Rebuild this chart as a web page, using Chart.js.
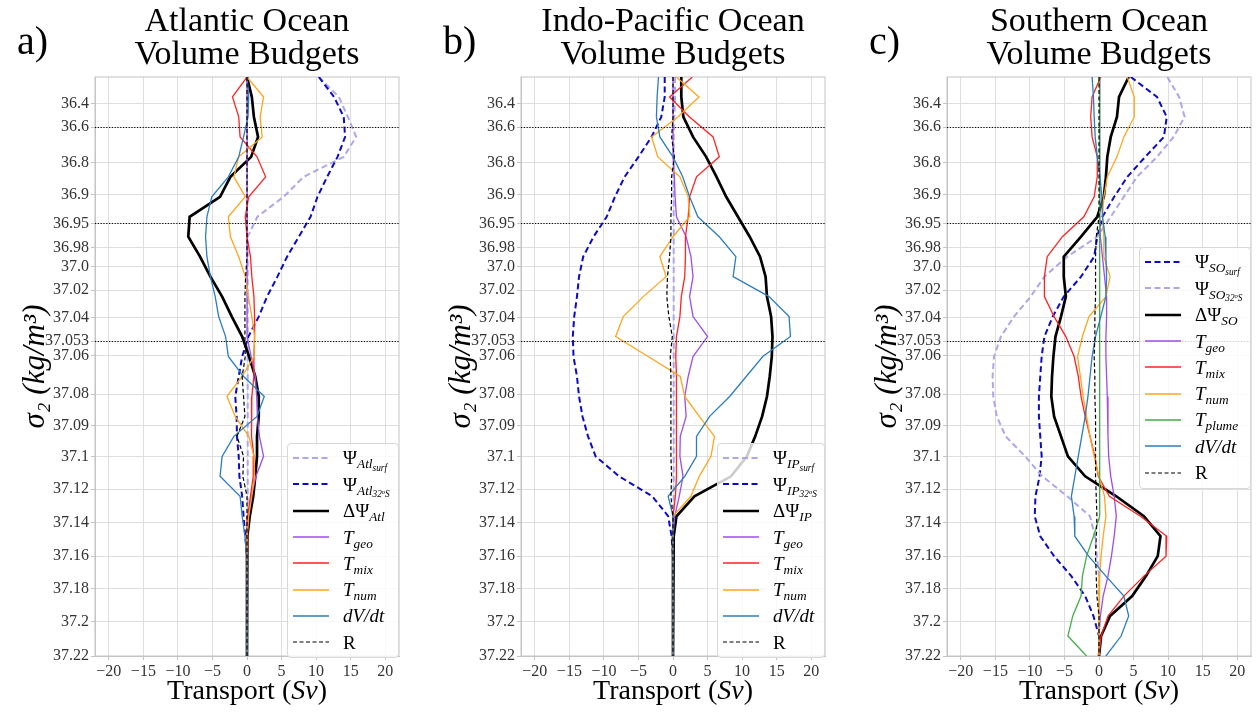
<!DOCTYPE html>
<html>
<head>
<meta charset="utf-8">
<title>Volume Budgets</title>
<script src="https://cdn.jsdelivr.net/npm/chart.js@4.4.1/dist/chart.umd.min.js"></script>
<style>
  body { margin: 0; background: #fff; font-family: 'Liberation Serif', 'DejaVu Serif', serif; color: #000; }
  #page { position: relative; width: 1258px; height: 714px; overflow: hidden; }
  .panel { position: absolute; top: 0; width: 406px; height: 714px; }
  .panel canvas { position: absolute; left: 0; top: 0; }
  .letter { position: absolute; left: 17px; top: 21px; font-size: 40px; line-height: 40px; }
  .title { position: absolute; left: -53px; width: 600px; top: 3px; text-align: center; font-size: 34px; line-height: 33px; white-space: nowrap; }
  .xtitle { position: absolute; left: -53px; width: 600px; top: 676px; text-align: center; font-size: 28px; line-height: 28px; }
  .legend { position: absolute; box-sizing: border-box; background: rgba(255,255,255,0.8); border: 1px solid #d8d8d8; border-radius: 4px; padding: 1px 0 2px 5px; }
  .row { height: 26.3px; display: flex; align-items: center; }
  .row svg { flex: none; margin-right: 14px; }
  .lab { font-size: 19px; line-height: 1; white-space: nowrap; }
  .lab sub { font-size: 0.7em; vertical-align: -0.3em; line-height: 0; }
  .lab sup { font-size: 0.7em; vertical-align: 0.45em; line-height: 0; }
</style>
</head>
<body>
<div id="page"></div>
<script>
// y positions of the density bins (axis units, top = 0, bottom = 58)
const levels = [0, 2, 4, 6, 8, 10, 12, 14, 16, 18, 20, 22, 24, 26, 28, 30, 32, 34, 36, 38, 40, 42, 44, 46, 48, 50, 52, 54, 56, 58];

// sigma_2 tick labels and where they sit on that axis
const yTickLabels = ['36.4', '36.6', '36.8', '36.9', '36.95', '36.98', '37.0', '37.02', '37.04', '37.053', '37.06', '37.08', '37.09', '37.1', '37.12', '37.14', '37.16', '37.18', '37.2', '37.22'];
const yTickPos = [2.64, 5.01, 8.59, 11.75, 14.66, 17.1, 19.0, 21.34, 24.12, 26.45, 27.93, 31.76, 34.94, 38.05, 41.28, 44.66, 48.0, 51.27, 54.58, 58.0];
const dottedLabels = ['36.6', '36.95', '37.053'];
const xTicks = [-20, -15, -10, -5, 0, 5, 10, 15, 20];

// --- Atlantic (Sv) ---
const atlSurf  = [10.4, 13.3, 14.6, 15.8, 14.0, 8.2, 5.3, 1.5, 0.1, 0.1, 0.1, 0.1, 0.1, 0.1, 0.1, 0.1, 0.1, 0.1, 0.1, 0.1, 0.1, 0.1, 0.1, 0.1, 0, 0, 0, 0, 0, 0];
const atl32S   = [10.4, 12.6, 14.0, 14.2, 13.1, 11.6, 10.2, 9.2, 7.5, 5.8, 4.4, 2.9, 1.7, 0.2, -0.7, -1.2, -1.7, -1.5, -1.45, -1.2, -1.1, -0.7, -0.5, -0.25, 0, 0, 0, 0, 0, 0];
const atlDelta = [0, 0.7, 1.0, 1.6, 0.6, -2.4, -3.9, -8.3, -8.5, -6.8, -5.3, -3.6, -2.2, -0.7, 0.3, 1.2, 1.7, 1.7, 1.45, 1.45, 1.2, 0.9, 0.4, 0.05, 0, 0, 0, 0, 0, 0];
const atlGeo   = [0, 0, 0, 0, 0, 0, 0, 0, 0, 0, 0, 0, 0, 0.1, 0.6, 1.2, 1.4, 1.5, 1.8, 2.4, 1.3, 0.6, 0.2, 0, 0, 0, 0, 0, 0, 0];
const atlMix   = [0, -2.1, -1.2, -1.0, 1.45, 2.7, 0.25, -0.25, 0, 0.5, 0.7, 1.0, 1.1, 1.1, 1.0, 1.0, 0.7, 0.6, 0.7, 1.0, 0.9, 0.5, 0.1, 0, 0, 0, 0, 0, 0, 0];
const atlNum   = [0, 2.4, 1.9, 2.2, -1.2, -1.9, -0.25, -2.7, -2.4, -1.2, -0.25, 0.2, 0.7, 1.1, 1.0, -0.7, -2.9, -1.7, 0.25, 1.0, 1.1, 0.7, 0.25, 0, 0, 0, 0, 0, 0, 0];
const atlDvdt  = [0, 0.25, 0.15, -0.5, -1.2, -2.7, -5.1, -5.8, -6.0, -5.8, -5.3, -4.6, -4.1, -3.1, -2.7, -0.5, 2.5, 1.45, -1.9, -3.6, -3.9, -1.0, -0.7, -0.3, 0, 0, 0, 0, 0, 0];
const atlR     = [0, 0, 0, 0, 0, 0, 0, 0, 0, 0, -0.2, -0.3, -0.3, -0.3, -0.25, -0.7, -0.5, -0.3, -1.45, -0.5, -0.6, 0, 0, 0, 0, 0, 0, 0, 0, 0];

// --- Indo-Pacific (Sv) ---
const ipSurf  = [0.3, 0.3, 0.2, 0.1, 0.1, 0.1, 0.1, 0.1, 0.1, 0.1, 0.1, 0.1, 0.1, 0.1, 0.1, 0.1, 0.1, 0.1, 0.1, 0.1, 0.1, 0.1, 0.05, 0, 0, 0, 0, 0, 0, 0];
const ip32S   = [-1.2, -1.2, -1.7, -3.1, -5.0, -7.0, -8.4, -9.6, -11.5, -13.0, -13.6, -13.9, -14.3, -14.5, -14.4, -13.9, -13.6, -13.1, -12.3, -11.2, -7.8, -3.0, -0.7, -0.2, 0, 0, 0, 0, 0, 0];
const ipDelta = [1.2, 1.2, 1.5, 2.9, 4.8, 6.3, 7.7, 9.4, 11.1, 12.6, 13.4, 13.6, 14.2, 14.4, 14.3, 14.0, 13.6, 12.9, 11.9, 10.7, 8.4, 3.1, 0.5, 0.1, 0, 0, 0, 0, 0, 0];
const ipGeo   = [0, 0, 0, 0, 0, 0.2, 0.3, 0.5, 1.9, 2.6, 2.9, 2.4, 2.9, 5.0, 2.9, 2.2, 1.7, 1.9, 1.05, 1.0, 1.45, 0.9, 0.25, 0, 0, 0, 0, 0, 0, 0];
const ipMix   = [2.8, -0.5, 2.4, 5.8, 6.7, 3.4, 2.4, 2.2, 1.8, 1.8, 1.7, 1.2, 1.0, 0.5, 0.4, 0.5, 0.5, 0.5, 0.5, 0.5, 0.5, 0.35, 0, 0, 0, 0, 0, 0, 0, 0];
const ipNum   = [0.5, 3.75, 0.7, -3.1, -2.2, 1.0, 2.2, 2.4, 0, -1.9, -1.0, -4.3, -7.2, -8.3, -3.6, 1.05, 1.7, 3.8, 6.0, 5.5, 3.8, 2.6, 0, 0, 0, 0, 0, 0, 0, 0];
const ipDvdt  = [-2.1, -2.3, -2.4, -1.9, 0, 1.4, 2.4, 3.6, 6.7, 9.1, 8.7, 13.9, 16.8, 17.0, 13.0, 10.6, 8.2, 5.3, 3.4, 3.4, 1.7, -0.7, 0, 0, 0, 0, 0, 0, 0, 0];
const ipR     = [0, 0, 0, -0.2, 0.2, -0.2, -0.2, -0.3, -0.3, -0.5, -0.8, -0.9, -0.6, -0.1, -0.4, -0.3, -0.3, -0.3, -0.3, -0.3, -0.2, -0.3, 0, 0, 0, 0, 0, 0, 0, 0];

// --- Southern Ocean (Sv) ---
const soSurf   = [4.6, 8.4, 9.8, 9.4, 6.7, 4.1, 2.2, 0.5, -0.25, -0.7, -2.6, -5.1, -6.7, -7.9, -8.3, -8.5, -8.7, -8.7, -8.5, -8.3, -8.6, -9.2, -9.3, -8.5, -6.5, -4.0, -2.0, -0.8, 0, 0];
const so32S    = [9.9, 11.6, 12.4, 10.8, 8.4, 5.5, 3.6, 1.7, -0.25, -4.6, -7.9, -9.9, -12.3, -14.2, -15.2, -15.4, -15.3, -14.8, -13.5, -10.7, -8.2, -4.6, -1.3, -0.6, -0.3, 0, 0, 0, 0, 0];
const soDelta  = [4.3, 2.9, 2.6, 1.7, 1.2, 1.0, 0.7, -0.25, -2.6, -5.1, -5.1, -4.8, -5.5, -6.3, -6.6, -6.8, -6.9, -6.5, -5.5, -4.5, -2.0, 2.5, 6.5, 8.9, 8.5, 6.8, 4.8, 1.6, 0.3, 0];
const soGeo    = [0.1, 0.1, 0.1, 0.1, 0.1, 0.1, 0.1, 0.1, 0.2, 0.5, 0.8, 1.1, 1.1, 1.0, 1.0, 1.1, 1.2, 1.3, 1.3, 1.4, 1.7, 2.2, 2.5, 2.2, 1.8, 1.3, 0.6, 0.2, 0, 0];
const soMix    = [0.25, -1.0, -1.2, -1.0, -0.25, -0.25, -0.7, -2.2, -5.3, -7.5, -7.9, -7.9, -6.5, -4.8, -3.6, -3.0, -2.6, -2.0, -1.3, -0.6, -0.1, 1.5, 6.0, 9.8, 9.7, 6.5, 3.6, 1.3, 0.3, 0];
const soNum    = [4.1, 5.1, 5.1, 3.6, 2.6, 1.2, 0.7, 0.5, 0.7, 0.7, 1.6, 1.0, -1.45, -2.4, -3.1, -2.7, -2.3, -1.8, -1.3, -0.7, 0, 0.8, 1.0, 0.6, 0.3, 0.1, 0, 0, 0, 0];
const soPlume  = [0.1, 0.1, 0.1, 0.1, 0.1, 0.1, 0.1, 0.1, 0.1, 0.1, 0.1, 0.1, 0.1, 0.1, 0.1, 0.1, 0.1, 0.1, 0.1, 0.1, 0.1, 0.1, 0, -0.8, -1.8, -2.4, -2.6, -3.8, -4.5, -1.8];
const soDvdt   = [-1.0, -0.8, -0.7, -0.55, -0.25, 0.15, 0.4, 0.5, 0.9, 1.0, 1.1, 1.0, 0.25, -0.5, -1.0, -1.3, -1.6, -2.0, -2.5, -3.0, -3.5, -4.0, -3.6, -3.5, -1.5, 1.0, 3.6, 4.3, 3.2, 1.0];
const soR      = [0, 0, 0, 0, 0, 0, 0, 0, -0.4, -0.5, -0.5, -0.5, -0.6, -0.6, -0.7, -0.6, -0.6, -0.5, -0.5, -0.5, -0.5, -0.4, -0.3, -0.4, -0.5, -0.4, -0.3, 0, 0, 0];

const styles = {
  psiLight: { color: '#aca7ea', width: 2, dash: [6, 3.5] },
  psiDark:  { color: '#0b0bc4', width: 2, dash: [6, 3.5] },
  delta:    { color: '#000000', width: 2.7 },
  geo:      { color: '#9d4cf1', width: 1.3 },
  mix:      { color: '#ff2222', width: 1.3 },
  num:      { color: '#ffa51c', width: 1.3 },
  plume:    { color: '#44ad48', width: 1.3 },
  dvdt:     { color: '#2c7dbd', width: 1.3 },
  r:        { color: '#000000', width: 1.2, dash: [4, 2.5] }
};

const panels = [
  {
    letter: 'a)', title: ['Atlantic Ocean', 'Volume Budgets'], left: 0,
    legend: { left: 287, top: 443, width: 112 },
    series: [
      [atlSurf, 'psiLight', 'Ψ<sub><i>Atl</i><sub><i>surf</i></sub></sub>'],
      [atl32S, 'psiDark', 'Ψ<sub><i>Atl</i><sub><i>32<sup>o</sup>S</i></sub></sub>'],
      [atlDelta, 'delta', 'ΔΨ<sub><i>Atl</i></sub>'],
      [atlGeo, 'geo', '<i>T</i><sub><i>geo</i></sub>'],
      [atlMix, 'mix', '<i>T</i><sub><i>mix</i></sub>'],
      [atlNum, 'num', '<i>T</i><sub><i>num</i></sub>'],
      [atlDvdt, 'dvdt', '<i>dV/dt</i>'],
      [atlR, 'r', 'R']
    ]
  },
  {
    letter: 'b)', title: ['Indo-Pacific Ocean', 'Volume Budgets'], left: 426,
    legend: { left: 291, top: 443, width: 108 },
    series: [
      [ipSurf, 'psiLight', 'Ψ<sub><i>IP</i><sub><i>surf</i></sub></sub>'],
      [ip32S, 'psiDark', 'Ψ<sub><i>IP</i><sub><i>32<sup>o</sup>S</i></sub></sub>'],
      [ipDelta, 'delta', 'ΔΨ<sub><i>IP</i></sub>'],
      [ipGeo, 'geo', '<i>T</i><sub><i>geo</i></sub>'],
      [ipMix, 'mix', '<i>T</i><sub><i>mix</i></sub>'],
      [ipNum, 'num', '<i>T</i><sub><i>num</i></sub>'],
      [ipDvdt, 'dvdt', '<i>dV/dt</i>'],
      [ipR, 'r', 'R']
    ]
  },
  {
    letter: 'c)', title: ['Southern Ocean', 'Volume Budgets'], left: 852,
    legend: { left: 287, top: 247, width: 112 },
    series: [
      [soSurf, 'psiDark', 'Ψ<sub><i>SO</i><sub><i>surf</i></sub></sub>'],
      [so32S, 'psiLight', 'Ψ<sub><i>SO</i><sub><i>32<sup>o</sup>S</i></sub></sub>'],
      [soDelta, 'delta', 'ΔΨ<sub><i>SO</i></sub>'],
      [soGeo, 'geo', '<i>T</i><sub><i>geo</i></sub>'],
      [soMix, 'mix', '<i>T</i><sub><i>mix</i></sub>'],
      [soNum, 'num', '<i>T</i><sub><i>num</i></sub>'],
      [soPlume, 'plume', '<i>T</i><sub><i>plume</i></sub>'],
      [soDvdt, 'dvdt', '<i>dV/dt</i>'],
      [soR, 'r', 'R']
    ]
  }
];

const serif = "'Liberation Serif', 'DejaVu Serif', serif";

// light grey frame all round the plot area
const framePlugin = {
  id: 'frame',
  beforeDatasetsDraw(chart) {
    const { ctx, chartArea: a } = chart;
    ctx.save();
    ctx.strokeStyle = '#c4c4c4';
    ctx.lineWidth = 1;
    ctx.strokeRect(a.left, a.top, a.right - a.left, a.bottom - a.top);
    ctx.restore();
  }
};

// black dotted lines at the chosen density classes, placed by the y scale
const dottedPlugin = {
  id: 'dotted',
  afterDatasetsDraw(chart) {
    const { ctx, chartArea: a, scales } = chart;
    ctx.save();
    ctx.strokeStyle = '#000';
    ctx.lineWidth = 1;
    ctx.setLineDash([1.2, 1.6]);
    dottedLabels.forEach(lab => {
      const py = Math.round(scales.y.getPixelForValue(yTickPos[yTickLabels.indexOf(lab)])) + 0.5;
      ctx.beginPath();
      ctx.moveTo(a.left, py);
      ctx.lineTo(a.right, py);
      ctx.stroke();
    });
    ctx.restore();
  }
};

const page = document.getElementById('page');

panels.forEach(p => {
  const wrap = document.createElement('div');
  wrap.className = 'panel';
  wrap.style.left = p.left + 'px';
  page.appendChild(wrap);

  const canvas = document.createElement('canvas');
  canvas.width = 406;
  canvas.height = 714;
  wrap.appendChild(canvas);

  const datasets = p.series.map(([vals, key, tex], i) => {
    const s = styles[key];
    return {
      label: tex.replace(/<[^>]+>/g, ''),
      tex: tex,
      data: vals.map((v, j) => ({ x: v, y: levels[j] })),
      borderColor: s.color,
      borderWidth: s.width,
      borderDash: s.dash || [],
      pointRadius: 0,
      tension: 0,
      fill: false,
      clip: 0,
      order: -i
    };
  });

  new Chart(canvas, {
    type: 'line',
    data: { datasets },
    plugins: [framePlugin, dottedPlugin],
    options: {
      responsive: false,
      animation: false,
      layout: { padding: { top: 77, right: 7, bottom: 0, left: 0 } },
      plugins: { legend: { display: false }, tooltip: { enabled: false } },
      scales: {
        x: {
          type: 'linear', min: -22, max: 22,
          afterBuildTicks: s => { s.ticks = xTicks.map(v => ({ value: v })); },
          afterFit: s => { s.height = 58; },
          grid: { color: '#dedede', tickLength: 4, tickColor: '#c4c4c4' },
          border: { color: '#c4c4c4' },
          ticks: {
            color: '#333', padding: 2, maxRotation: 0,
            font: { family: serif, size: 16 },
            callback: v => v < 0 ? '\u2212' + (-v) : String(v)
          }
        },
        y: {
          type: 'linear', reverse: true, min: 0, max: 58,
          afterBuildTicks: s => { s.ticks = yTickPos.map(v => ({ value: v })); },
          afterFit: s => { s.width = 95; },
          grid: { color: '#dedede', tickLength: 4, tickColor: '#c4c4c4' },
          border: { color: '#c4c4c4' },
          ticks: {
            color: '#333', padding: 2, autoSkip: false,
            font: { family: serif, size: 16 },
            callback: (v, i) => yTickLabels[i]
          },
          title: {
            display: true, text: 'σ₂ (kg/m³)', color: '#000',
            font: { family: serif, size: 31, style: 'italic' },
            padding: { top: 17, bottom: 0 }
          }
        }
      }
    }
  });

  const letter = document.createElement('div');
  letter.className = 'letter';
  letter.textContent = p.letter;
  wrap.appendChild(letter);

  const title = document.createElement('div');
  title.className = 'title';
  title.innerHTML = p.title.join('<br>');
  wrap.appendChild(title);

  const xt = document.createElement('div');
  xt.className = 'xtitle';
  xt.innerHTML = 'Transport (<i>Sv</i>)';
  wrap.appendChild(xt);

  const lg = document.createElement('div');
  lg.className = 'legend';
  lg.style.left = p.legend.left + 'px';
  lg.style.top = p.legend.top + 'px';
  lg.style.width = p.legend.width + 'px';
  datasets.forEach(d => {
    const row = document.createElement('div');
    row.className = 'row';
    row.innerHTML = '<svg width="36" height="12"><line x1="0" y1="6" x2="36" y2="6" stroke="' + d.borderColor +
      '" stroke-width="' + d.borderWidth + '" stroke-dasharray="' + (d.borderDash.length ? d.borderDash.join(' ') : 'none') +
      '"/></svg><span class="lab">' + d.tex + '</span>';
    lg.appendChild(row);
  });
  wrap.appendChild(lg);
});
</script>
</body>
</html>
